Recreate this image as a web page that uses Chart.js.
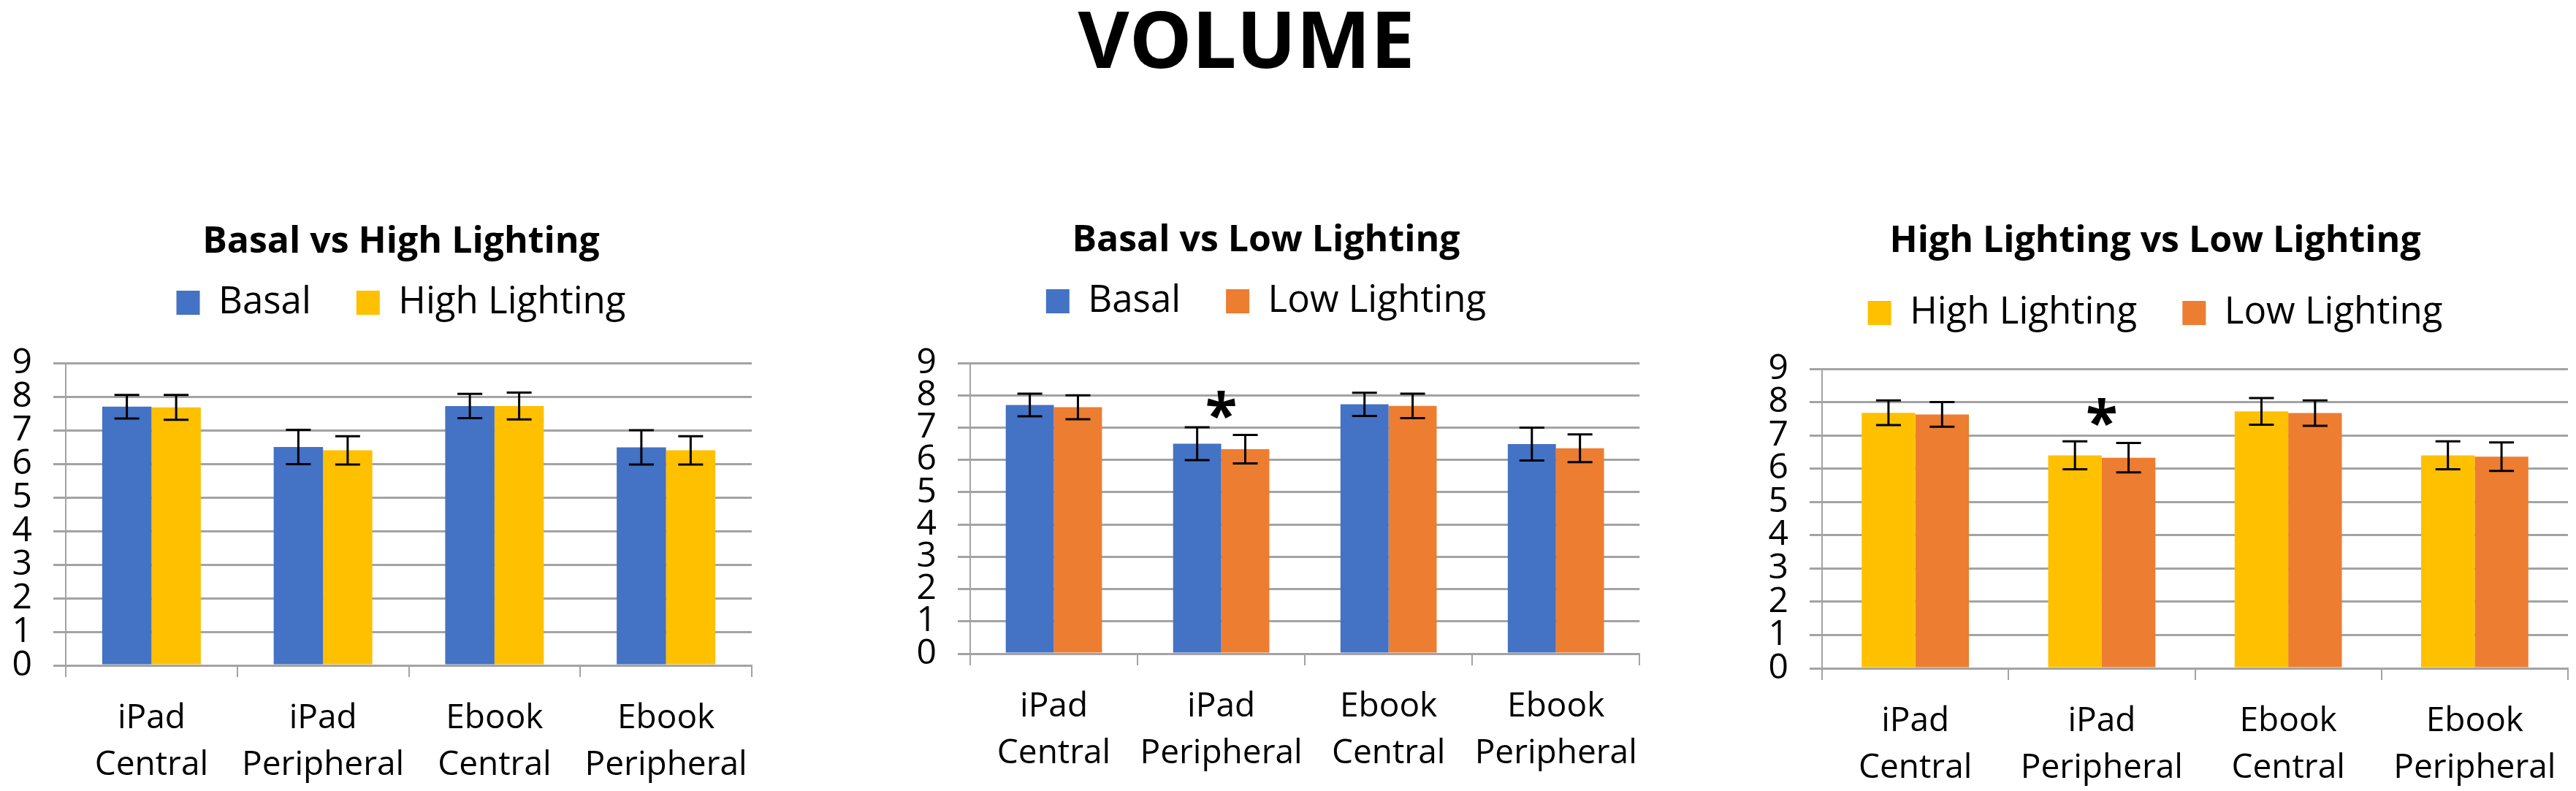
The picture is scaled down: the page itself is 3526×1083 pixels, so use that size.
<!DOCTYPE html>
<html>
<head>
<meta charset="utf-8">
<title>Volume</title>
<script src="https://cdn.jsdelivr.net/npm/chart.js@4.4.0/dist/chart.umd.min.js"></script>
<style>
  html, body { margin: 0; padding: 0; background: #fff; overflow: hidden; }
  body { width: 3526px; height: 1083px; position: relative; font-family: 'Open Sans', sans-serif; }
  #mainTitle { position: absolute; left: 1306px; top: -2px; width: 800px; text-align: center;
               font-size: 108px; font-weight: 700; line-height: 1; color: #000; }
  canvas { position: absolute; top: 250px; }
  #chart1 { left: 0; }
  #chart2 { left: 1180px; }
  #chart3 { left: 2360px; }
</style>
</head>
<body>
<div id="mainTitle">VOLUME</div>
<canvas id="chart1" width="1088" height="833"></canvas>
<canvas id="chart2" width="1086" height="833"></canvas>
<canvas id="chart3" width="1166" height="833"></canvas>

<script>
// Data (means and +/- error)
const categories = [['iPad', 'Central'], ['iPad', 'Peripheral'], ['Ebook', 'Central'], ['Ebook', 'Peripheral']];
const basal = [7.70, 6.50, 7.72, 6.49];
const basalErr = [0.35, 0.51, 0.36, 0.51];
const highLighting = [7.68, 6.40, 7.72, 6.40];
const highLightingErr = [0.37, 0.42, 0.40, 0.42];
const lowLighting = [7.63, 6.33, 7.67, 6.36];
const lowLightingErr = [0.37, 0.44, 0.38, 0.43];
const yMin = 0;
const yMax = 9;
const yStep = 1;
// significance marks per category and the level where they sit
const sigNone = ['', '', '', ''];
const sigPeripheral = ['', '*', '', ''];
const sigLevel = 7.75;

const BLUE = '#4472C4';
const YELLOW = '#FFC000';
const ORANGE = '#ED7D31';
const GRID = '#a3a3a3';

Chart.defaults.font.family = "'Open Sans', sans-serif";
Chart.defaults.color = '#000';

// error bars drawn on top of every bar
const errorBars = {
  id: 'errorBars',
  afterDatasetsDraw(chart) {
    const ctx = chart.ctx;
    const y = chart.scales.y;
    const half = 17;
    ctx.save();
    ctx.strokeStyle = '#000';
    ctx.lineWidth = 3;
    chart.data.datasets.forEach((ds, d) => {
      chart.getDatasetMeta(d).data.forEach((bar, i) => {
        const top = y.getPixelForValue(ds.data[i] + ds.errors[i]);
        const bottom = y.getPixelForValue(ds.data[i] - ds.errors[i]);
        ctx.beginPath();
        ctx.moveTo(bar.x, top); ctx.lineTo(bar.x, bottom);
        ctx.moveTo(bar.x - half, top); ctx.lineTo(bar.x + half, top);
        ctx.moveTo(bar.x - half, bottom); ctx.lineTo(bar.x + half, bottom);
        ctx.stroke();
      });
    });
    ctx.restore();
  }
};

// asterisks above a category
const sigMarks = {
  id: 'sigMarks',
  afterDatasetsDraw(chart, args, opts) {
    const ctx = chart.ctx;
    ctx.save();
    ctx.font = "bold 80px 'Open Sans'";
    ctx.textAlign = 'center';
    ctx.textBaseline = 'alphabetic';
    ctx.fillStyle = '#000';
    (opts.marks || []).forEach((m, i) => {
      if (!m) return;
      const x = chart.scales.x.getPixelForValue(i);
      const y = chart.scales.y.getPixelForValue(opts.level);
      ctx.fillText(m, x, y + 44);
    });
    ctx.restore();
  }
};

// extra room under the legend
const legendGap = {
  id: 'legendGap',
  beforeInit(chart) {
    const extra = chart.options.plugins.legendGap.extra || 0;
    const fit = chart.legend.fit;
    chart.legend.fit = function () {
      fit.call(this);
      this.height += extra;
    };
  }
};

function makeChart(id, title, series, marks, lay) {
  return new Chart(document.getElementById(id), {
    type: 'bar',
    data: {
      labels: categories,
      datasets: series.map(s => ({
        label: s.label,
        data: s.data,
        errors: s.errors,
        backgroundColor: s.color,
        borderWidth: 0,
        categoryPercentage: 0.575,
        barPercentage: 1.0
      }))
    },
    options: {
      responsive: false,
      animation: false,
      events: [],
      layout: { padding: { left: lay.pl, right: 0, top: 0, bottom: 0 } },
      plugins: {
        title: {
          display: true,
          text: title,
          color: '#000',
          font: { size: 50, weight: 'bold' },
          padding: { top: lay.tt, bottom: lay.tb }
        },
        legend: {
          display: true,
          labels: { boxWidth: 32, boxHeight: 33, padding: 62, color: '#000', font: { size: 51 } }
        },
        legendGap: { extra: lay.lg },
        sigMarks: { marks: marks, level: sigLevel },
        tooltip: { enabled: false }
      },
      scales: {
        x: {
          afterFit: s => { s.height = lay.xh; },
          grid: { display: true, drawOnChartArea: false, drawTicks: true, tickLength: 16, offset: true, color: GRID, lineWidth: 2 },
          border: { display: true, color: GRID, width: 3 },
          ticks: { color: '#000', font: { size: 46, lineHeight: 1.41 }, padding: 24, maxRotation: 0, minRotation: 0, autoSkip: false }
        },
        y: {
          min: yMin,
          max: yMax,
          afterFit: s => { s.width = lay.yw; },
          grid: { color: GRID, lineWidth: 3, tickLength: 17, drawTicks: true },
          border: { display: true, color: GRID, width: 2 },
          ticks: { stepSize: yStep, autoSkip: false, color: '#000', font: { size: 48 }, padding: 29 }
        },
        // empty right-hand box, only to centre title and legend like the original
        yRight: {
          type: 'linear',
          position: 'right',
          display: true,
          afterFit: s => { s.width = lay.rw; },
          grid: { display: false, drawTicks: false },
          border: { display: false },
          ticks: { display: false }
        }
      }
    },
    plugins: [legendGap, errorBars, sigMarks]
  });
}

document.addEventListener('DOMContentLoaded', () => {
  makeChart('chart1', 'Basal vs High Lighting', [
    { label: 'Basal', data: basal, errors: basalErr, color: BLUE },
    { label: 'High Lighting', data: highLighting, errors: highLightingErr, color: YELLOW }
  ], sigNone, { pl: 10, yw: 80, rw: 59, xh: 172, tt: 52, tb: -35, lg: 47 });

  makeChart('chart2', 'Basal vs Low Lighting', [
    { label: 'Basal', data: basal, errors: basalErr, color: BLUE },
    { label: 'Low Lighting', data: lowLighting, errors: lowLightingErr, color: ORANGE }
  ], sigPeripheral, { pl: 20, yw: 128, rw: 10, xh: 188, tt: 50, tb: -35, lg: 49 });

  makeChart('chart3', 'High Lighting vs Low Lighting', [
    { label: 'High Lighting', data: highLighting, errors: highLightingErr, color: YELLOW },
    { label: 'Low Lighting', data: lowLighting, errors: lowLightingErr, color: ORANGE }
  ], sigPeripheral, { pl: 14, yw: 120, rw: 11, xh: 168, tt: 51, tb: -20, lg: 41 });
});
</script>
</body>
</html>
